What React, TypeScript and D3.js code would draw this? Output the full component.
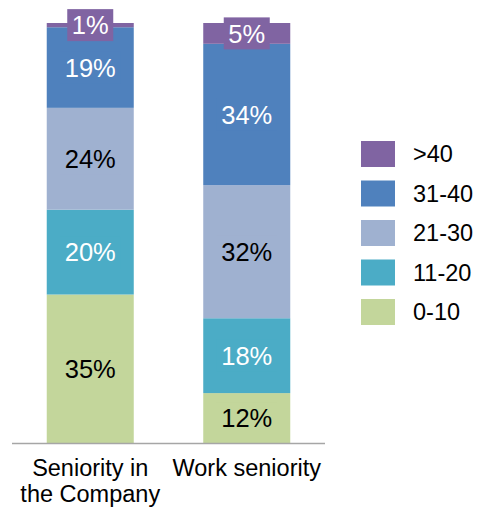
import React from "react";
import * as d3 from "d3";

const categories = ["Seniority in|the Company", "Work seniority"];
const seriesNames = ["0-10", "11-20", "21-30", "31-40", ">40"];
const values0to10 = [35, 12];
const values11to20 = [20, 18];
const values21to30 = [24, 32];
const values31to40 = [19, 34];
const valuesOver40 = [1, 5];
const seriesColors = ["#C3D69B", "#4BACC6", "#9FB1D0", "#4F81BD", "#8064A2"];
const labelColors = ["#000000", "#FFFFFF", "#000000", "#FFFFFF", "#FFFFFF"];

const allSeries = [values0to10, values11to20, values21to30, values31to40, valuesOver40];

export default function App() {
  const W = 481, H = 510;
  const x = d3.scaleBand<string>().domain(categories).range([12, 325]).paddingInner(0.444).paddingOuter(0.222);
  const y = d3.scaleLinear().domain([0, 1]).range([443, 23]);

  const rows = categories.map((c, i) => {
    const r: any = { cat: c };
    seriesNames.forEach((s, k) => (r[s] = allSeries[k][i]));
    return r;
  });
  const stack = d3.stack<any>().keys(seriesNames).offset(d3.stackOffsetExpand);
  const layers = stack(rows);
  const font = "Arial, 'Liberation Sans', sans-serif";

  return (
    <svg width={W} height={H} style={{ position: "absolute", left: 0, top: 0 }} fontFamily={font}>
      <rect width={W} height={H} fill="#fff" />
      {layers.map((layer, k) =>
        layer.map((d, i) => {
          const bx = x(categories[i])!;
          const y0 = y(d[1]);
          const y1 = y(d[0]);
          return (
            <rect key={`${k}-${i}`} x={bx} y={y0} width={x.bandwidth()} height={y1 - y0} fill={seriesColors[k]} />
          );
        })
      )}
      <line x1={12} x2={325} y1={443.5} y2={443.5} stroke="#A6A6A6" strokeWidth={1.5} />
      {layers.map((layer, k) =>
        layer.map((d, i) => {
          const cx = x(categories[i])! + x.bandwidth() / 2;
          const cy = (y(d[0]) + y(d[1])) / 2;
          const label = `${allSeries[k][i]}%`;
          const bw = 46 + (label.length - 2) * 14.5;
          return (
            <g key={`l${k}-${i}`}>
              <rect x={cx - bw / 2} y={cy - 16} width={bw} height={32} fill={seriesColors[k]} />
              <text x={cx} y={cy} dy="0.36em" textAnchor="middle" fontSize={25.5} fill={labelColors[k]}>
                {label}
              </text>
            </g>
          );
        })
      )}
      {categories.map((c) => {
        const cx = x(c)! + x.bandwidth() / 2;
        return c.split("|").map((line, j) => (
          <text key={c + j} x={cx} y={476 + j * 26} textAnchor="middle" fontSize={23.5} fill="#000">
            {line}
          </text>
        ));
      })}
      {seriesNames
        .slice()
        .reverse()
        .map((s, j) => {
          const k = seriesNames.length - 1 - j;
          const ly = 141 + j * 39.5;
          return (
            <g key={s}>
              <rect x={361} y={ly} width={34} height={26} fill={seriesColors[k]} />
              <text x={413} y={ly + 13} dy="0.36em" fontSize={23.5} fill="#000">
                {s}
              </text>
            </g>
          );
        })}
    </svg>
  );
}
